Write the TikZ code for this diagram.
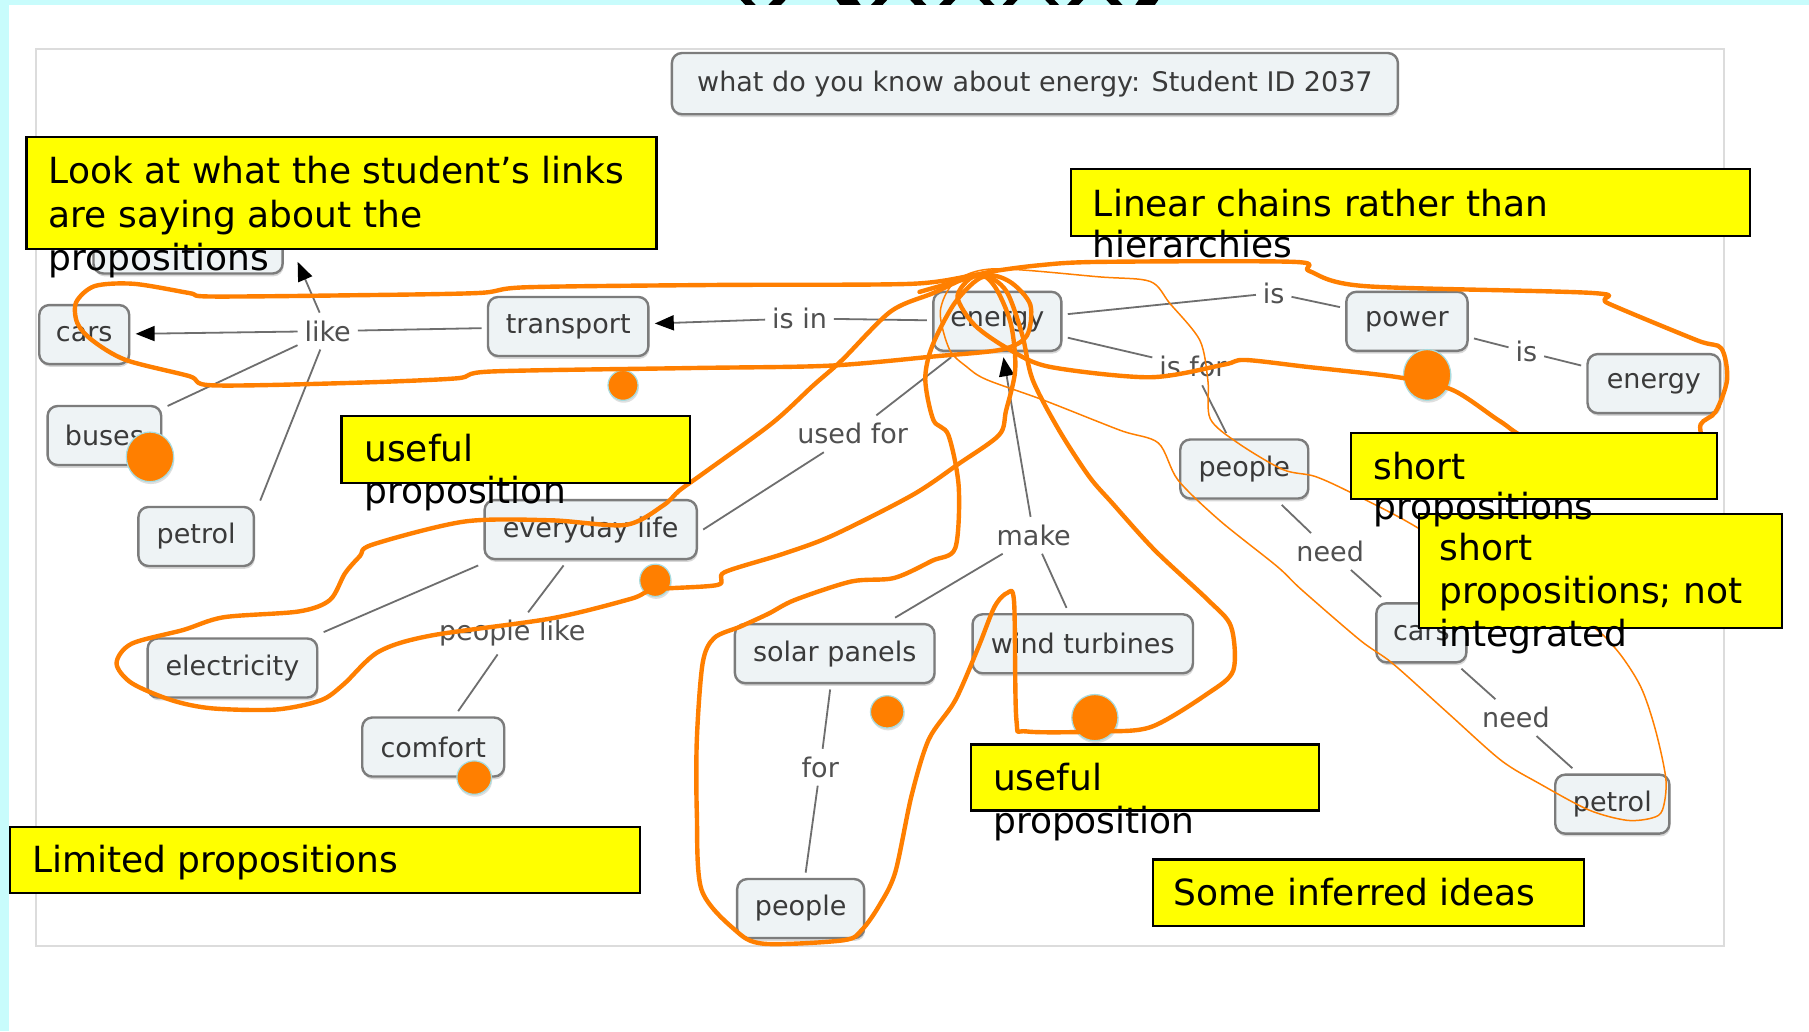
\documentclass[tikz,border=0pt]{standalone}
\usepackage{fontspec}
\setmainfont{DejaVu Sans}
\usetikzlibrary{arrows.meta,shadows,calc}

\definecolor{slidecyan}{HTML}{C8FCFC}
\definecolor{panelline}{HTML}{DCDCDC}
\definecolor{cfill}{HTML}{EEF3F5}
\definecolor{cborder}{HTML}{7C7C7C}
\definecolor{ctext}{HTML}{3A3A3A}
\definecolor{ltext}{HTML}{505050}
\definecolor{edgegray}{HTML}{6E6E6E}
\definecolor{inkorange}{HTML}{FF7F00}
\definecolor{dotrim}{HTML}{A6DCE0}
\definecolor{hilite}{HTML}{FFFF00}

\tikzset{
  concept/.style={draw=cborder, line width=1.2pt, fill=cfill, rounded corners=5pt,
    minimum height=29.5pt, inner xsep=8pt, inner ysep=2pt, outer sep=3.2pt,
    text=ctext, font=\fontsize{13.5}{16}\selectfont,
    drop shadow={shadow xshift=0.5pt, shadow yshift=-1.4pt, opacity=0.3}},
  linkword/.style={text=ltext, font=\fontsize{13.5}{16}\selectfont,
    inner xsep=3.5pt, inner ysep=4pt, outer sep=0pt},
  link/.style={draw=edgegray, line width=0.9pt},
  linkarrow/.style={link, -{Triangle[length=9.5pt,width=7.5pt,color=black]}},
  inkloop/.style={draw=inkorange, line width=2.2pt, line cap=round, line join=round},
  inkthin/.style={draw=inkorange, line width=0.75pt, line cap=round, line join=round},
  blob/.style={fill=inkorange, draw=dotrim, line width=0.6pt,
    drop shadow={shadow xshift=0.4pt, shadow yshift=-1.2pt, opacity=0.25}},
  callout/.style={fill=hilite, draw=black, line width=1.1pt},
  notetext/.style={anchor=base west, inner sep=0pt, text=black,
    font=\fontsize{18}{21}\selectfont}
}

\begin{document}
\begin{tikzpicture}[x=0.57685pt, y=-0.57685pt]
\useasboundingbox (0,0) rectangle (1568,894);
\fill[white] (0,0) rectangle (1568,894);

% slide frame strips
\fill[slidecyan] (0,0) rectangle (1568,4.3);
\fill[slidecyan] (0,0) rectangle (8,894);
% lower ends of the large heading letters above the frame
\foreach \a/\b/\s in {642/651/4, 670/681/-4, 725/743/3, 759/769/-4, 789/799/4,
  818/828/-4, 849/858/4, 873/882/-4, 906/914/4, 929/939/-4, 959/969/4, 987/1004/-3}
  \fill[black] (\a,0) -- (\b,0) -- (\b+\s,4.3) -- (\a+\s,4.3) -- cycle;

% concept map panel
\draw[panelline, line width=1pt] (31,42.5) rectangle (1494,820);

\node[concept, minimum width=363pt, minimum height=30.6pt] (title) at (897,72.5)
  {what do you know about energy: Student ID 2037};

% concepts
\node[concept, minimum width=94.6pt] (hid) at (163,211.5) {};
\node[concept, minimum width=45pt]   (carsL) at (73,290) {cars};
\node[concept, minimum width=80.2pt] (transport) at (492.5,283) {transport};
\node[concept, minimum width=64pt]   (energy) at (864.5,278.5) {energy};
\node[concept, minimum width=60.6pt] (power) at (1219.5,278.5) {power};
\node[concept, minimum width=66.3pt] (energyR) at (1433.5,332.5) {energy};
\node[concept, minimum width=56.8pt] (buses) at (90.5,377.5) {buses};
\node[concept, minimum width=57.7pt] (petrolL) at (170,465) {petrol};
\node[concept, minimum width=106.1pt] (everyday) at (512,459) {everyday life};
\node[concept, minimum width=84.8pt] (electricity) at (201.5,579) {electricity};
\node[concept, minimum width=71pt]   (comfort) at (375.5,647.5) {comfort};
\node[concept, minimum width=99.8pt] (solar) at (723.5,566.5) {solar panels};
\node[concept, minimum width=110.2pt] (wind) at (938.5,558) {wind turbines};
\node[concept, minimum width=64pt]   (peopleM) at (1078.5,406.5) {people};
\node[concept, minimum width=45pt]   (carsR) at (1232,548.5) {cars};
\node[concept, minimum width=57.1pt] (petrolR) at (1397.5,697) {petrol};
\node[concept, minimum width=63.5pt] (peopleB) at (694,787.5) {people};

% linking phrases
\node[linkword] (like) at (284,287) {like};
\node[linkword] (isin) at (693,276) {is in};
\node[linkword] (isA) at (1104,254) {is};
\node[linkword] (isB) at (1323,305) {is};
\node[linkword] (isfor) at (1034,318) {is for};
\node[linkword] (usedfor) at (739,376) {used for};
\node[linkword] (make) at (896,464) {make};
\node[linkword] (peoplelike) at (444,549) {people like};
\node[linkword] (for) at (711,665) {for};
\node[linkword] (needA) at (1153,478) {need};
\node[linkword] (needB) at (1314,622) {need};
\coordinate (hidtip) at (258,227);

% connections
\draw[link] (like) -- (transport);
\draw[linkarrow] (like) -- (carsL);
\draw[link] (like) -- (buses);
\draw[link] (like) -- (petrolL.north east);
\draw[linkarrow] (like) -- (hidtip);
\draw[link] (energy) -- (isin);
\draw[linkarrow] (isin) -- (transport);
\draw[link] (energy) -- (isA);
\draw[link] (isA) -- (power);
\draw[link] (power) -- (isB);
\draw[link] (isB) -- (energyR);
\draw[link] (energy) -- (isfor);
\draw[link] (isfor) -- (peopleM);
\draw[link] (energy) -- (usedfor);
\draw[link] (usedfor) -- (everyday.east);
\draw[linkarrow] (make) -- (energy);
\draw[link] (make) -- (solar);
\draw[link] (make) -- (wind);
\draw[link] (everyday) -- (peoplelike);
\draw[link] (peoplelike) -- (comfort);
\draw[link] (everyday.south west) -- (electricity.north east);
\draw[link] (solar) -- (for);
\draw[link] (for) -- (peopleB);
\draw[link] (peopleM) -- (needA);
\draw[link] (needA) -- (carsR);
\draw[link] (carsR) -- (needB);
\draw[link] (needB) -- (petrolR);

% orange dots
\path[blob] (540,334) ellipse [x radius=13, y radius=13];
\path[blob] (130,396) ellipse [x radius=20.5, y radius=21.5];
\path[blob] (1237,325) ellipse [x radius=20.5, y radius=22];
\path[blob] (568,503) ellipse [x radius=13.5, y radius=14];
\path[blob] (769,617) ellipse [x radius=14.5, y radius=14];
\path[blob] (949,622) ellipse [x radius=20, y radius=20];
\path[blob] (411,674) ellipse [x radius=15, y radius=14.5];

% hand-drawn loops
\draw[inkloop] plot[smooth cycle, tension=0.5] coordinates {
  (850,238) (790,246) (620,247) (456,249) (414,254) (300,256) (182,257) (164,254)
  (116,246) (82,248) (66,262) (67,280) (80,295) (109,312) (164,326) (184,334)
  (300,332) (395,328) (426,322) (600,319) (718,317) (809,309) (868,303) (890,291)
  (893,264) (875,244)};
\draw[inkloop] (797,253) -- (850,238);

\draw[inkloop] plot[smooth cycle, tension=0.5] coordinates {
  (856,236) (900,230) (953,227) (1122,227) (1135,235) (1183,248) (1381,254)
  (1394,263) (1471,295) (1492,302) (1497,329) (1487,357) (1474,368) (1472,392)
  (1420,400) (1330,382) (1300,365) (1259,338) (1212,327) (1133,318) (1079,312)
  (1061,316) (997,327) (910,318) (875,303) (845,282) (830,258) (840,242)};

\draw[inkloop] plot[smooth cycle, tension=0.5] coordinates {
  (846,238) (809,254) (772,270) (730,312) (705,334) (669,367) (610,410) (589,425)
  (575,438) (542,455) (478,451) (403,452) (323,472) (312,482) (299,497) (286,520)
  (259,530) (194,535) (159,546) (114,558) (101,575) (114,592) (149,607) (184,614)
  (239,615) (278,607) (298,593) (328,565) (373,551) (478,536) (547,519) (567,511)
  (622,507) (628,496) (679,480) (722,464) (791,429) (831,402) (866,377) (872,356)
  (880,320) (876,280) (862,248)};

\draw[inkloop] plot[smooth cycle, tension=0.5] coordinates {
  (852,240) (828,262) (808,300) (802,329) (809,364) (822,377) (831,422) (828,475)
  (808,486) (775,501) (738,504) (689,520) (666,532) (642,543) (619,553) (609,575)
  (604,641) (604,705) (608,771) (637,806) (662,818) (731,815) (747,806) (762,785)
  (776,756) (790,690) (805,641) (828,607) (848,561) (862,526) (873,514) (879,522)
  (881,624) (890,634) (954,634) (998,630) (1047,601) (1069,581) (1067,543)
  (1047,520) (1001,477) (964,436) (944,413) (918,373) (895,329) (886,290) (872,252)};

\draw[inkthin] plot[smooth cycle, tension=0.5] coordinates {
  (862,233) (953,240) (997,244) (1014,263) (1040,295) (1047,330) (1049,363)
  (1073,384) (1112,407) (1140,413) (1173,428) (1228,457) (1300,505) (1375,540)
  (1401,563) (1422,595) (1435,633) (1444,676) (1441,702) (1432,709) (1410,711)
  (1377,702) (1334,679) (1301,659) (1255,618) (1207,575) (1179,555) (1128,511)
  (1107,491) (1057,451) (1021,416) (1004,384) (971,373) (905,347) (855,329)
  (838,318) (823,303) (815,270) (828,244)};

% comment boxes
\path[callout] (23,118.5) rectangle (569,216);
\node[notetext] (lookA) at (42,158.7) {Look at what the student’s links};
\node[notetext] (lookB) at (42,196.8) {are saying about the};
\node[notetext] (lookC) at (42,234.8) {propositions};

\path[callout] (928,146.8) rectangle (1517,204.6);
\node[notetext] (linA) at (947,187.5) {Linear chains rather than};
\node[notetext] (linB) at (947,223) {hierarchies};

\path[callout] (296,360.6) rectangle (598,418.4);
\node[notetext] (useA) at (315.4,400.2) {useful};
\node[notetext] (useB) at (315.4,436.3) {proposition};

\path[callout] (1229.8,445.7) rectangle (1544.7,544);
\node[notetext] (intA) at (1247.5,486) {short};
\node[notetext] (intB) at (1247.5,523) {propositions; not};
\node[notetext] (intC) at (1247.5,560) {integrated};

\path[callout] (1170.7,375) rectangle (1488,432.8);
\node[notetext] (shA) at (1190,415.5) {short};
\node[notetext] (shB) at (1190,450.7) {propositions};

\path[callout] (841.4,645.3) rectangle (1143,702.5);
\node[notetext] (use2A) at (860.5,685.6) {useful};
\node[notetext] (use2B) at (860.5,722.5) {proposition};

\path[callout] (9,716.6) rectangle (554.8,773.9);
\node[notetext] (lim) at (27.4,756.3) {Limited propositions};

\path[callout] (999.6,745) rectangle (1373,802.4);
\node[notetext] (inf) at (1017.2,784.7) {Some inferred ideas};
\end{tikzpicture}
\end{document}
